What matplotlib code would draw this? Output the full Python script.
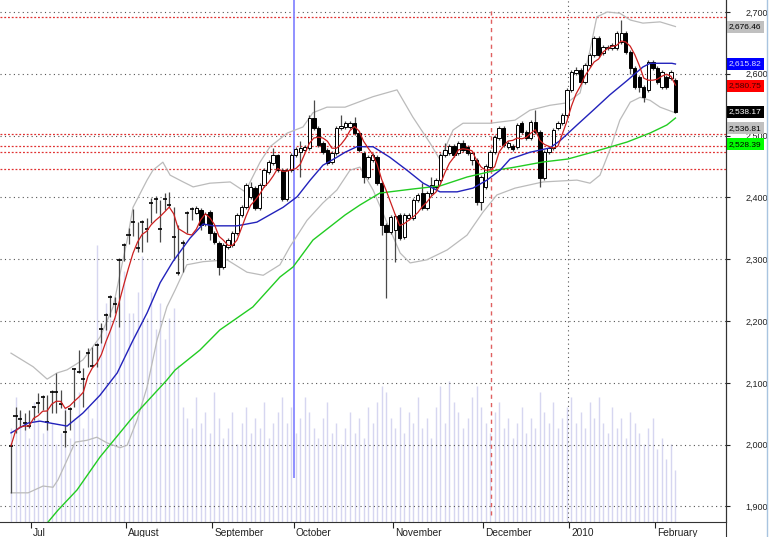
import matplotlib
matplotlib.use("Agg")
import matplotlib.pyplot as plt
import matplotlib.transforms as mtransforms
from matplotlib import font_manager
from matplotlib.lines import Line2D
import numpy as np
import pandas as pd

# narrow font if there is one, else a small Arial-like face
names = {f.name for f in font_manager.fontManager.ttflist}
if "Liberation Sans Narrow" in names:
    FAM, FS_X, FS_TICK, FS_TAG = "Liberation Sans Narrow", 8, 7.5, 7.5
else:
    FAM, FS_X, FS_TICK, FS_TAG = "Liberation Sans", 7.3, 6.5, 6.0
plt.rcParams["font.family"] = [FAM, "DejaVu Sans"]

# ── daily candles (Jul 2009 - Feb 2010) ──
opens = [1998, 2046, 2041, 2035, 2030, 2061, 2067, 2077, 2037, 2085, 2085, 2066, 2020, 2058, 2122,
         2118, 2106, 2148, 2127, 2161, 2187, 2210, 2239, 2228, 2299, 2323, 2339, 2360, 2318, 2360,
         2349, 2391, 2397, 2349, 2397, 2388, 2336, 2278, 2326, 2375, 2381,
         2374.8, 2379.6, 2357.0, 2376.4, 2342.4, 2326.2, 2287.4, 2319.8, 2323.0, 2342.4, 2371.5,
         2384.5, 2400.7, 2415.2, 2382.9, 2420.1, 2441.1, 2455.6, 2468.6, 2444.3, 2397.4, 2444.3,
         2468.6, 2473.5, 2476.7, 2479.9, 2528.5, 2512.3, 2488.0, 2476.7, 2457.3, 2471.8, 2512.3,
         2513.9, 2513.9, 2520.4, 2504.2, 2471.8, 2433.0, 2460.5, 2465.4, 2423.3, 2355.4, 2344.0,
         2347.3, 2371.5, 2335.9, 2366.7, 2366.7, 2395.8, 2407.1, 2382.9, 2407.1, 2416.9, 2428.2,
         2468.6, 2471.8, 2483.2, 2471.8, 2488.0, 2481.5, 2460.5, 2460.5, 2392.6, 2416.9, 2449.2,
         2473.5, 2496.1, 2512.3, 2481.5, 2483.2, 2481.5, 2520.4, 2505.8, 2496.1, 2522.0, 2505.8,
         2431.4, 2473.5, 2479.9, 2512.3, 2520.4, 2533.3, 2573.8, 2601.3, 2606.1, 2586.7, 2614.2,
         2630.4, 2657.9, 2633.6, 2641.7, 2641.7, 2641.7, 2651.4, 2666.0, 2635.3, 2609.4, 2594.8,
         2578.6, 2573.8, 2619.1, 2609.4, 2578.6, 2594.8, 2593.2, 2590.0]
highs = [2003, 2061, 2056, 2051, 2056, 2061, 2084, 2080, 2080, 2088, 2116, 2088, 2056, 2061, 2124,
         2153, 2124, 2156, 2158, 2164, 2197, 2213, 2242, 2239, 2302, 2326, 2351, 2381, 2360, 2363,
         2367, 2399, 2402, 2396, 2407, 2409, 2385, 2355, 2331, 2378, 2385,
         2386, 2383, 2376, 2379, 2345, 2329, 2326, 2334, 2345, 2374, 2388, 2423, 2425, 2418, 2423,
         2447, 2460, 2480, 2471, 2447, 2447, 2472, 2482, 2492, 2485, 2533, 2558, 2515, 2491, 2480,
         2475, 2515, 2533, 2524, 2523, 2530, 2507, 2475, 2468, 2472, 2468, 2426, 2358, 2371, 2373,
         2375, 2375, 2375, 2399, 2407, 2423, 2410, 2433, 2431, 2472, 2488, 2486, 2486, 2491, 2493,
         2485, 2475, 2464, 2436, 2454, 2477, 2501, 2516, 2516, 2491, 2486, 2520, 2524, 2509, 2525,
         2541, 2509, 2477, 2483, 2512, 2524, 2537, 2577, 2606, 2611, 2610, 2617, 2634, 2661, 2661,
         2647, 2647, 2650, 2669, 2687, 2669, 2638, 2612, 2598, 2582, 2622, 2622, 2612, 2606, 2598,
         2606, 2593]
lows = [1922, 2019, 2029, 2024, 2027, 2040, 2051, 2056, 2024, 2051, 2051, 2060, 1996, 2024, 2061,
        2116, 2061, 2126, 2126, 2126, 2164, 2186, 2207, 2213, 2190, 2297, 2324, 2337, 2312, 2312,
        2328, 2359, 2375, 2328, 2380, 2385, 2299, 2274, 2279, 2342, 2363,
        2373, 2347, 2354, 2331, 2324, 2274, 2284, 2316, 2320, 2339, 2368, 2381, 2398, 2379, 2380,
        2417, 2438, 2452, 2441, 2394, 2394, 2441, 2465, 2433, 2473, 2476, 2509, 2481, 2470, 2452,
        2454, 2468, 2509, 2510, 2511, 2501, 2473, 2423, 2430, 2457, 2420, 2339, 2237, 2341, 2295,
        2331, 2333, 2363, 2363, 2392, 2380, 2380, 2404, 2414, 2425, 2465, 2469, 2465, 2469, 2473,
        2469, 2452, 2388, 2380, 2414, 2446, 2470, 2493, 2481, 2478, 2475, 2478, 2502, 2493, 2493,
        2502, 2417, 2428, 2470, 2477, 2509, 2517, 2530, 2570, 2598, 2583, 2583, 2611, 2627, 2627,
        2630, 2638, 2638, 2638, 2648, 2632, 2600, 2575, 2570, 2554, 2570, 2606, 2583, 2575, 2575,
        2590, 2536]
closes = [1998, 2046, 2041, 2035, 2030, 2061, 2067, 2077, 2037, 2085, 2085, 2066, 2020, 2058, 2122,
          2118, 2106, 2148, 2127, 2161, 2187, 2210, 2239, 2228, 2299, 2323, 2339, 2360, 2318, 2360,
          2349, 2391, 2397, 2349, 2397, 2388, 2336, 2278, 2326, 2375, 2381,
          2382.9, 2355.4, 2373.1, 2342.4, 2327.8, 2287.4, 2323.0, 2331.1, 2342.4, 2371.5, 2384.5,
          2420.1, 2416.9, 2382.9, 2420.1, 2444.3, 2457.3, 2468.6, 2444.3, 2397.4, 2444.3, 2468.6,
          2478.3, 2479.9, 2481.5, 2528.5, 2512.3, 2484.8, 2473.5, 2455.6, 2471.8, 2512.3, 2515.5,
          2520.4, 2520.4, 2504.2, 2476.7, 2433.0, 2465.4, 2468.6, 2423.3, 2355.4, 2344.0, 2368.3,
          2369.9, 2334.3, 2371.5, 2371.5, 2395.8, 2403.9, 2382.9, 2407.1, 2420.1, 2428.2, 2468.6,
          2476.7, 2483.2, 2468.6, 2488.0, 2476.7, 2471.8, 2471.8, 2392.6, 2433.0, 2450.8, 2473.5,
          2497.7, 2512.3, 2484.8, 2488.0, 2478.3, 2517.2, 2505.8, 2496.1, 2522.0, 2505.8, 2431.4,
          2473.5, 2479.9, 2509.1, 2520.4, 2533.3, 2573.8, 2602.9, 2606.1, 2586.7, 2614.2, 2630.4,
          2657.9, 2630.4, 2643.4, 2643.4, 2646.6, 2666.0, 2666.0, 2635.3, 2609.4, 2578.6, 2578.6,
          2562.5, 2619.1, 2609.4, 2586.7, 2602.9, 2578.6, 2602.9, 2538.17]
volume = [18, 24, 21, 19, 16, 23, 20, 17, 22, 19, 15, 17, 22, 16, 20, 25, 18, 22, 20,
          53,
          37, 42, 39, 40, 42, 48, 40, 40, 44, 51, 39, 44, 37, 42, 35, 39, 41,
          30, 22, 20, 18, 24, 19, 21, 17, 25, 20, 16, 18, 21, 15, 19, 22, 17, 20, 18, 23, 16, 19, 21, 24,
          19, 22, 17, 20, 24, 21, 18, 16, 20, 23, 17, 19, 15, 18, 21, 17, 20, 16, 22, 19,
          23, 26, 25, 20, 18, 22, 17, 21, 19, 24, 18, 20, 16, 22, 26, 19, 27, 23, 21, 18,
          20, 24, 26, 22, 19, 17, 21, 23, 18, 20, 16, 19, 22, 17, 20, 18, 25, 21, 19, 23, 18, 20, 22, 24, 19,
          21, 18, 23, 20, 24, 19, 17, 22, 18, 20, 16, 21, 19, 17, 15, 18, 20, 14, 16, 12, 15, 10]

# indicator lines (bar index, value)
ma20_idx = [0, 3.8, 6.4, 8.6, 12.4, 15.9, 19.7, 23.5, 27, 30.1, 33, 35.8, 39.6, 42.5, 44.7, 50,
            54.4, 57.3, 60.2, 63.3, 66.2, 69, 72.1, 73.9, 76.5, 80.1, 83.8, 87.6, 91.2, 94.9,
            98.7, 102.2, 105.3, 108.2, 110.4, 114.8, 119.2, 121.5, 125.2, 128.8, 132.5, 136.3,
            139.8, 141.4, 146.2, 147]
ma20_val = [2019, 2035, 2038, 2035, 2030, 2051, 2080, 2116, 2169, 2213, 2262, 2296, 2334, 2357,
            2354, 2354, 2360, 2372, 2384, 2401, 2428, 2452, 2465, 2473, 2482, 2482, 2465, 2444,
            2423, 2409, 2409, 2415, 2428, 2444, 2462, 2473, 2480, 2492, 2517, 2541, 2566, 2589,
            2611, 2617, 2617, 2615.82]
ma60_idx = [8.2, 10.4, 14.6, 19.7, 27, 34.5, 36.3, 41.8, 46.2, 53.5, 59.5, 62.4, 66.8, 73.9,
            77.2, 81.6, 88.9, 94.9, 100.9, 107.5, 111.5, 117.7, 123.2, 128.8, 136.3, 141.4,
            145.1, 147]
ma60_val = [1874.8, 1894, 1926.6, 1980, 2045, 2104.6, 2120.7, 2153, 2185.5, 2222.7, 2271.2,
            2287.4, 2331, 2371.5, 2387.7, 2407, 2413.6, 2418.5, 2433, 2444.3, 2449, 2457.3,
            2462.1, 2473.5, 2489.6, 2504.2, 2517.2, 2528.39]
bb_up_idx = [0, 4.9, 8, 10.2, 12.4, 15.9, 19.7, 22.6, 25.7, 27, 30.1, 31.4, 33.6, 35.2, 38.1,
             40.3, 44, 48.5, 51.8, 55.1, 57.3, 61.1, 64.6, 66.8, 69.9, 73.9, 80.1, 85.4, 88.9,
             92.7, 94.9, 97.8, 100, 106, 111.5, 114.8, 119.2, 123, 125.9, 128.1, 129.6, 131.9,
             134.7, 137, 139.8, 143.6, 147]
bb_up_val = [2148, 2126, 2106, 2116, 2121, 2137, 2174, 2223, 2331, 2384, 2428, 2444, 2457, 2436,
             2425, 2417, 2423, 2425, 2409, 2457, 2482, 2504, 2514, 2537, 2546, 2546, 2563, 2574,
             2530, 2488, 2461, 2509, 2520, 2520, 2525, 2541, 2549, 2553, 2569, 2638, 2692, 2700,
             2698, 2687, 2682, 2684, 2676.46]
bb_lo_idx = [0, 3.8, 7.1, 9.3, 10.4, 12.4, 14.2, 16.8, 19, 21.2, 24.1, 25.7, 27.9, 30.1, 32.3,
             34.5, 36.3, 38.9, 42.5, 47.8, 52.2, 55.8, 59.5, 61.7, 65.5, 69, 72.1, 75, 77.2,
             80.1, 83.2, 86.1, 88.3, 92, 96.5, 100.9, 104.4, 107.5, 111.5, 117.7, 125.2, 128.1,
             130.3, 132.5, 134.7, 137, 139.2, 141.4, 143.6, 147]
bb_lo_val = [1922, 1922, 1933, 1931, 1943, 1975, 2004, 2007, 2012, 2003, 1995, 1999, 2040, 2093,
             2169, 2223, 2250, 2291, 2296, 2299, 2279, 2274, 2291, 2320, 2363, 2391, 2412, 2444,
             2449, 2412, 2359, 2310, 2294, 2299, 2315, 2339, 2376, 2404, 2415, 2425, 2428, 2423,
             2436, 2477, 2525, 2554, 2562, 2557, 2546, 2536.81]
ma5_last = 2580.75

month_labels = ["Jul", "August", "September", "October", "November", "December", "2010", "February"]
month_start = [5, 26, 45, 63, 85, 105, 124, 143]
levels = [2692.7, 2501.8, 2483.7, 2472.7, 2446.0]
y_ticks = [1900, 2000, 2100, 2200, 2300, 2400, 2500, 2600, 2700]

n = len(closes)
idx = np.arange(n)
o = np.array(opens, float)
c = np.array(closes, float)
ma5 = pd.Series(c).rolling(5, min_periods=1).mean()

W, H = 770, 537
fig = plt.figure(figsize=(W / 100, H / 100), dpi=100)
rect = [0, 15 / H, 726 / W, 522 / H]
x_lim = ((0 - 11) / 4.52, (726 - 11) / 4.52)
y_lim = (1874.8, 2719.4)

# volume in the background
axv = fig.add_axes(rect)
axv.vlines(idx, 0, volume, color="#d6d6f0", lw=1)
axv.set_xlim(*x_lim)
axv.set_ylim(0, 100)
axv.axis("off")

ax = fig.add_axes(rect)
ax.patch.set_alpha(0)
ax.set_xlim(*x_lim)
ax.set_ylim(*y_lim)

for p in y_ticks:
    ax.axhline(p, color="#555555", lw=0.8, ls=(0, (1, 3)), zorder=1)
for p in levels:
    ax.axhline(p, color="#e03030", lw=0.9, ls=(0, (1.5, 1.5)), zorder=1)

ax.vlines(62.5, 1946, y_lim[1], color="#8888ff", lw=1.3, zorder=1)
ax.vlines(106.2, 1886, 2703, color="#e06060", lw=1, ls=(0, (3, 3)), zorder=1)
ax.vlines(123.2, y_lim[0], y_lim[1], color="#555555", lw=0.8, ls=(0, (1, 3)), zorder=1)

# bollinger bands
ax.plot(bb_up_idx, bb_up_val, color="#bbbbbb", lw=0.9, zorder=2)
ax.plot(bb_lo_idx, bb_lo_val, color="#bbbbbb", lw=0.9, zorder=2)

# candles
ax.vlines(idx, lows, highs, color="#4a4a4a", lw=0.9, zorder=3)
flat = np.abs(c - o) < 1.5
ax.hlines(c[flat], idx[flat] - 0.45, idx[flat] + 0.45, color="black", lw=1.2, zorder=4)
body = ~flat
ax.bar(idx[body], np.abs(c - o)[body], bottom=np.minimum(o, c)[body], width=0.75,
       color=np.where(c[body] >= o[body], "white", "black"), edgecolor="black", lw=0.7, zorder=4)

ax.plot(ma60_idx, ma60_val, color="#22cc22", lw=1, zorder=5)
ax.plot(ma20_idx, ma20_val, color="#2222bb", lw=1, zorder=5)
ax.plot(idx, ma5, color="#cc2020", lw=0.9, zorder=5)

# axes / ticks
for s in ["left", "top"]:
    ax.spines[s].set_visible(False)
ax.spines["bottom"].set_color("#333333")
ax.spines["right"].set_color("#333333")
ax.yaxis.tick_right()
ax.set_yticks(y_ticks)
ax.set_yticklabels([f"{v:,}" for v in y_ticks])
ax.tick_params(axis="y", direction="out", length=3, pad=11, labelsize=FS_TICK, colors="#222222")
ax.set_xticks(np.array(month_start) - 0.5)
ax.set_xticklabels(month_labels, ha="left")
ax.tick_params(axis="x", direction="out", length=4, pad=0, labelsize=FS_X, colors="#222222")
offset = mtransforms.ScaledTranslation(2 / 100, 0, fig.dpi_scale_trans)
for lab in ax.get_xticklabels():
    lab.set_transform(lab.get_transform() + offset)

fig.add_artist(Line2D([726 / W, 726 / W], [0, 1], color="#333333", lw=0.8))
fig.add_artist(Line2D([767 / W, 767 / W], [0, 1], color="#a8c4e0", lw=1))

# last value tags on the right, pushed down when they would collide
tags = [(bb_up_val[-1], "#c0c0c0", "black"),
        (ma20_val[-1], "#0000ff", "#e0e0ff"),
        (ma5_last, "#ff0000", "#400000"),
        (closes[-1], "black", "white"),
        (bb_lo_val[-1], "#c0c0c0", "black"),
        (ma60_val[-1], "#00ff00", "black")]
trans = mtransforms.blended_transform_factory(ax.transAxes, ax.transData)
prev = None
for val, bg, fg in sorted(tags, key=lambda t: -t[0]):
    ypos = val if prev is None else min(val, prev - 26)
    prev = ypos
    ax.text(729 / 726, ypos, f"{val:,.2f}", transform=trans, ha="left", va="center",
            fontsize=FS_TAG, color=fg, zorder=10, clip_on=False,
            bbox=dict(boxstyle="square,pad=0.3", fc=bg, ec="none"))

fig.savefig("out.png", dpi=100)
